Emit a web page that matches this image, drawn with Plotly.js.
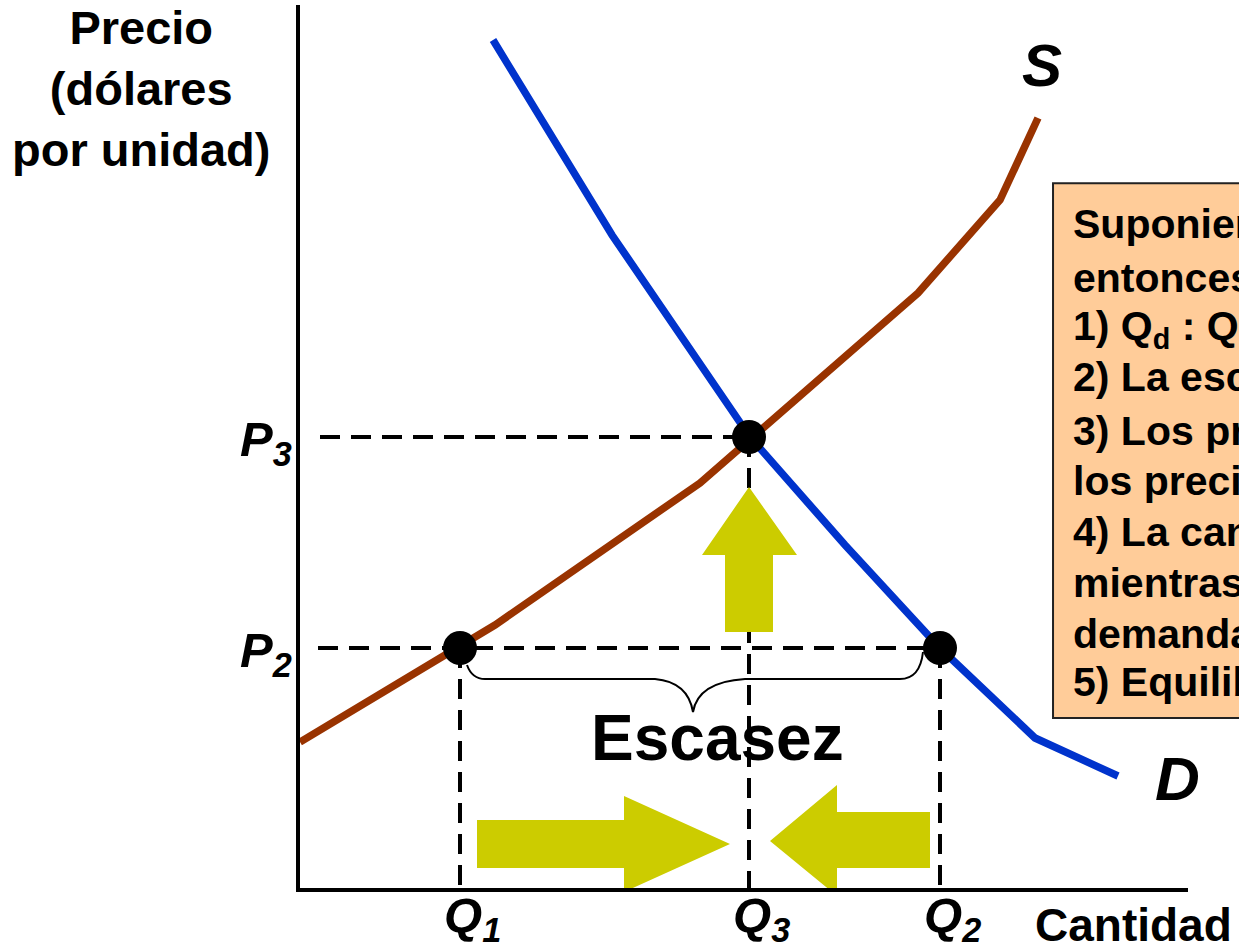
<!DOCTYPE html>
<html>
<head>
<meta charset="utf-8">
<script src="https://cdn.plot.ly/plotly-3.0.1.min.js"></script>
<style>
  html, body { margin: 0; padding: 0; background: #fff; }
  #chart { width: 1239px; height: 950px; }
</style>
</head>
<body>
<div id="chart"></div>
<script>
// curves (quantity, price)
const demandQ = [19.3, 31.2, 45.0, 54.5, 64.0, 73.5, 81.8];
const demandP = [84.8, 65.3, 45.1, 34.3, 24.0, 15.0, 11.2];
const supplyQ = [0, 19.5, 40.0, 61.8, 70.0, 73.8];
const supplyP = [14.6, 26.3, 40.5, 59.5, 68.8, 77.0];

// key quantities / prices
const qNames = ['1', '3', '2'];
const qValues = [16.0, 44.9, 64.0];
const pNames = ['3', '2'];
const pValues = [45.1, 24.0];

// points marked on the chart
const dotQ = [16.0, 44.9, 64.0];
const dotP = [24.0, 45.1, 24.0];

const boxLines = [
    'Suponiendo que el precio es P<sub>2</sub>,',
    'entonces:',
    '1) Q<sub>d</sub> : Q<sub>2</sub> &gt; Q<sub>s</sub> : Q<sub>1</sub>',
    '2) La escasez es Q<sub>2</sub> - Q<sub>1</sub>.',
    '3) Los productores suben',
    'los precios.',
    '4) La cantidad ofrecida aumenta',
    'mientras que la cantidad',
    'demandada disminuye.',
    '5) Equilibrio en P<sub>3</sub>, Q<sub>3</sub>',
];

const font = 'Liberation Sans, Arial, sans-serif',
    blue = '#0033CC',
    brown = '#993300',
    yellow = '#CCCC00',
    peach = '#FFCC99',
    dash = '20px,11px';

const [P3, P2] = pValues;
const [Q1, Q3, Q2] = qValues;

const dashed = (x, y) => ({
    type: 'scatter', mode: 'lines', x: x, y: y, hoverinfo: 'skip',
    line: { color: 'black', width: 4, dash: dash },
});

let data = [
    dashed([2.0, Q3], [P3, P3]),
    dashed([1.8, Q2], [P2, P2]),
    dashed([Q1, Q1], [P2, 0]),
    dashed([Q3, Q3], [P3, 0]),
    dashed([Q2, Q2], [P2, 0]),
    {
        type: 'scatter', mode: 'lines', x: supplyQ, y: supplyP, hoverinfo: 'skip',
        line: { color: brown, width: 7.5 },
    },
    {
        type: 'scatter', mode: 'lines', x: demandQ, y: demandP, hoverinfo: 'skip',
        line: { color: blue, width: 7.5 },
    },
    {
        type: 'scatter', mode: 'markers', x: dotQ, y: dotP, hoverinfo: 'skip',
        marker: { color: 'black', size: 34 },
    },
];

// block arrow as svg path in data units
const arrow = (pts) => ({
    type: 'path', xref: 'x', yref: 'y', layer: 'above',
    path: 'M' + pts.map(p => p.join(',')).join(' L') + ' Z',
    fillcolor: yellow, line: { width: 0 },
});

const brace = 'M16.7,22.3 Q17.2,20.9 18.5,20.9 L35.5,20.9 Q38.8,20.6 39.3,17.6 ' +
    'Q39.8,20.6 44.5,20.9 L60.0,20.9 Q62.0,20.9 62.3,23.6';

const shapes = [
    arrow([[42.5, 25.6], [47.3, 25.6], [47.3, 33.3], [49.7, 33.3], [44.9, 40.1], [40.2, 33.3], [42.5, 33.3]]),
    arrow([[17.7, 2.0], [32.4, 2.0], [32.4, -0.4], [43.0, 4.4], [32.4, 9.2], [32.4, 6.8], [17.7, 6.8]]),
    arrow([[63.0, 2.0], [53.7, 2.0], [53.7, -0.8], [47.0, 4.7], [53.7, 10.3], [53.7, 7.6], [63.0, 7.6]]),
    {
        type: 'path', xref: 'x', yref: 'y', path: brace,
        line: { color: 'black', width: 2 },
    },
    {
        type: 'rect', xref: 'paper', yref: 'paper',
        x0: 0.848, x1: 1.08, y0: 0.1925, y1: 0.798,
        fillcolor: peach, line: { color: '#222', width: 2 }, layer: 'below',
    },
];

const txt = (text, size, extra) => Object.assign({
    text: text, showarrow: false, font: { family: font, size: size, color: 'black' },
}, extra);

let annotations = [
    txt('<b>Precio<br>(dólares<br>por unidad)</b>', 47,
        { xref: 'paper', yref: 'paper', x: -0.179, y: 0.906, xanchor: 'center', yanchor: 'middle' }),
    txt('<b>Cantidad</b>', 46,
        { xref: 'paper', yref: 'paper', x: 0.826, y: -0.042, xanchor: 'left', yanchor: 'middle' }),
    txt('<b><i>S</i></b>', 60, { xref: 'x', yref: 'y', x: 74.2, y: 82.3 }),
    txt('<b><i>D</i></b>', 62, { xref: 'x', yref: 'y', x: 87.7, y: 11.0 }),
    txt('<b>Escasez</b>', 64, { xref: 'x', yref: 'y', x: 41.7, y: 15.0 }),
];

// text box lines, one annotation each to keep the slide's line spacing
boxLines.forEach((line, i) => annotations.push(
    txt('<b>' + line + '</b>', 41,
        { xref: 'paper', yref: 'paper', x: 0.868, y: (888 - 227 - i * 50.9) / 883,
          xanchor: 'left', yanchor: 'middle', align: 'left' })));

pNames.forEach((n, i) => annotations.push(
    txt(`<b><i>P</i><sub><i>${n}</i></sub></b>`, 49,
        { xref: 'paper', yref: 'y', x: -0.007, y: pValues[i], xanchor: 'right', yanchor: 'middle', yshift: -5 })));

qNames.forEach((n, i) => annotations.push(
    txt(`<b><i>Q</i><sub><i>${n}</i></sub></b>`, 49,
        { xref: 'x', yref: 'paper', x: qValues[i], y: -0.034, xanchor: 'center', yanchor: 'middle', xshift: 12 })));

const axisStyle = {
    showline: true, linewidth: 4, linecolor: 'black',
    showgrid: false, zeroline: false, showticklabels: false, ticks: '',
    fixedrange: true,
};

const layout = {
    width: 1239, height: 950,
    margin: { l: 300, r: 51, t: 5, b: 62 },
    paper_bgcolor: 'white', plot_bgcolor: 'white',
    showlegend: false,
    xaxis: Object.assign({ range: [0, 88.8] }, axisStyle),
    yaxis: Object.assign({ range: [0, 88.3] }, axisStyle),
    shapes: shapes,
    annotations: annotations,
    font: { family: font },
};

Plotly.newPlot('chart', data, layout, { displayModeBar: false, staticPlot: true });
</script>
</body>
</html>
